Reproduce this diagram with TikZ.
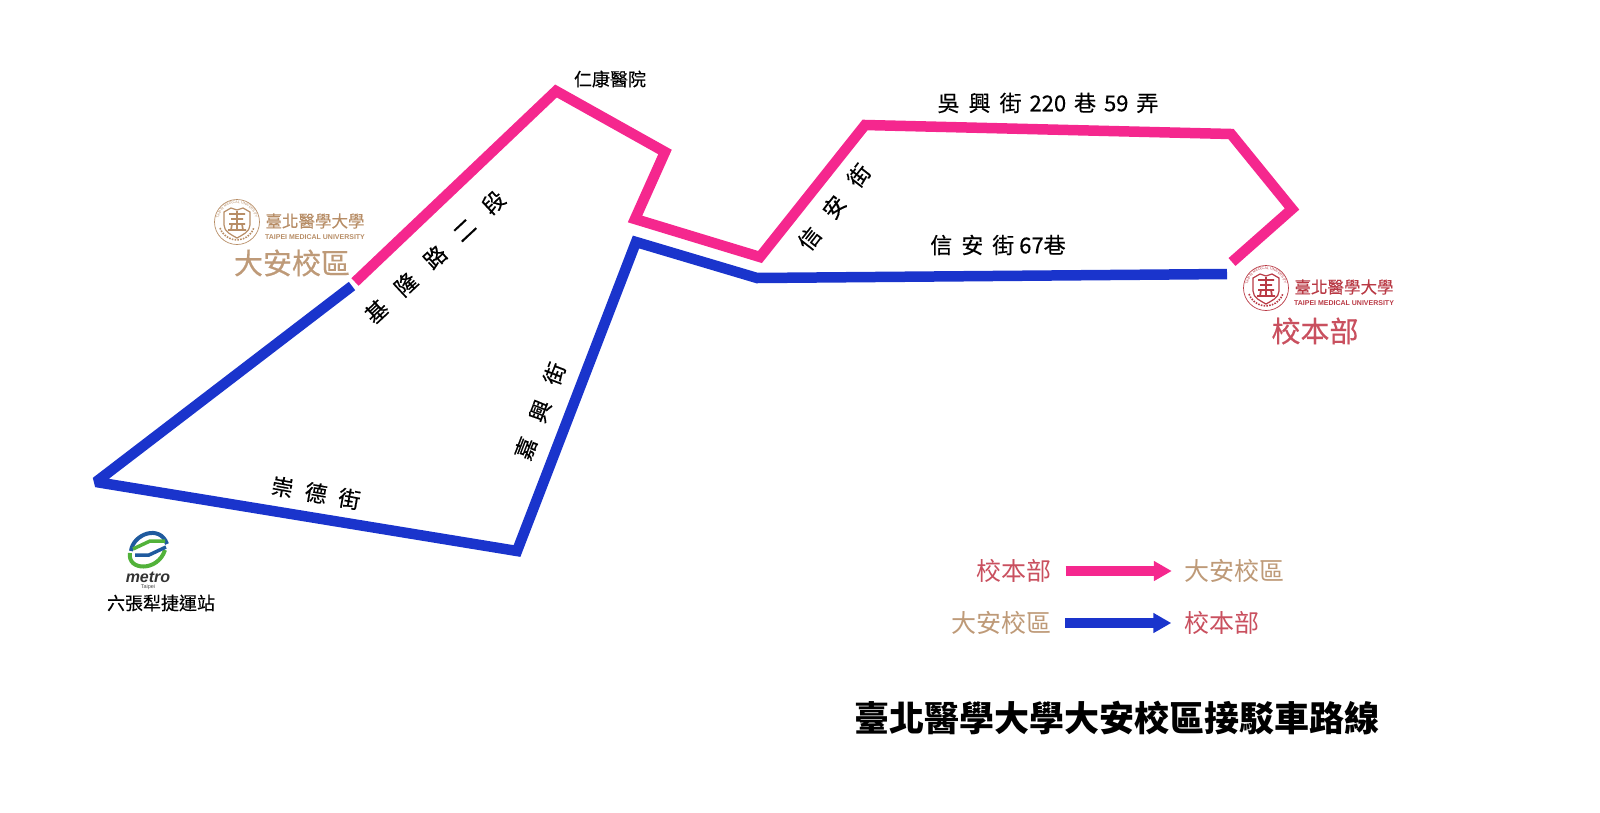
\documentclass[tikz,border=0pt]{standalone}
\usepackage{fontspec}
\usepackage{tikz}
\usepackage{xcolor}
\usetikzlibrary{arrows.meta,decorations.text}
\setmainfont{Noto Sans CJK TC}
\newfontfamily\medfont[FakeBold=0.35]{Noto Sans CJK TC}
\newfontfamily\logofont{Liberation Sans}
\definecolor{routepink}{HTML}{F5278E}
\definecolor{routeblue}{HTML}{1A34CC}
\definecolor{daantan}{HTML}{BE9A78}
\definecolor{mainred}{HTML}{C9505F}
\definecolor{logotan}{HTML}{B78D66}
\definecolor{logored}{HTML}{B93A45}
\definecolor{metroblue}{HTML}{1F5A9E}
\definecolor{metrogreen}{HTML}{52B23A}
\newcommand{\gap}{\hspace{9pt}}
\newcommand{\tmulogo}[4]{%
	\begin{scope}[shift={(#1,#2)},y=1pt,#3]
		\node[inner sep=0pt, circle, minimum size=45pt, draw=#3, line width=0.7pt] (#4ring) at (0,0) {};
		\draw[#3, line width=1.2pt, fill=white] (-13,10) -- (-6,14) -- (0,12) -- (6,14) -- (13,10) -- (13,-3) .. controls (13,-10) and (5,-13) .. (0,-16) .. controls (-5,-13) and (-13,-10) .. (-13,-3) -- cycle;
		\draw[#3, line width=1.7pt] (-8,8) -- (8,8) (0,11) -- (0,-8) (-6,3) -- (6,3) (-8,-2) -- (8,-2) (-5,-2) -- (-6,-8) (5,-2) -- (6,-8) (-9,-8) -- (9,-8);
		\path[decorate, decoration={text along path, text align=center, text={|\logofont\fontsize{3.6}{4}\selectfont\color{#3}|TAIPEI MEDICAL UNIVERSITY}}] (-18.5,2) arc[start angle=174, end angle=6, radius=18.6];
		\draw[#3, line width=1.6pt, dash pattern=on 1.6pt off 1.2pt] (-17,-6) arc[start angle=200, end angle=340, radius=18];
		\node[#3, font=\medfont\fontsize{16.5}{18}\selectfont, inner sep=0pt] (#4name) at (78,1) {臺北醫學大學};
		\node[#3, font=\logofont\bfseries\fontsize{7}{8}\selectfont, inner sep=0pt] (#4eng) at (78,-15) {TAIPEI MEDICAL UNIVERSITY};
	\end{scope}}
\tikzset{
	pinkroute/.style={draw=routepink, line width=10.5pt},
	blueroute/.style={draw=routeblue, line width=10.5pt, miter limit=2.4},
	roadlabel/.style={inner sep=0pt, font=\medfont\fontsize{22}{26}\selectfont},
	placelabel/.style={inner sep=0pt, font=\medfont\fontsize{18}{20}\selectfont},
	legendlabel/.style={inner sep=0pt, font=\fontsize{25}{28}\selectfont},
	legendarrow/.style={line width=10pt, -{Triangle[length=18pt, width=19pt]}},
}
\begin{document}
\begin{tikzpicture}[x=1pt, y=-1pt]
	\useasboundingbox (0,0) rectangle (1600,812);
	\coordinate (p0) at (1232,262);
	\coordinate (p1) at (1292,209);
	\coordinate (p2) at (1231,134);
	\coordinate (p3) at (865,125);
	\coordinate (p4) at (760,257);
	\coordinate (p5) at (635,219);
	\coordinate (p6) at (665,152);
	\coordinate (p7) at (556,91);
	\coordinate (p8) at (355,282);
	\draw[pinkroute] (p0) -- (p1) -- (p2) -- (p3) -- (p4) -- (p5) -- (p6) -- (p7) -- (p8);
	\coordinate (b0) at (352,286);
	\coordinate (b1) at (96,482);
	\coordinate (b2) at (517,551);
	\coordinate (b3) at (636,242);
	\coordinate (b4) at (757,278);
	\coordinate (b5) at (1227,274);
	\draw[blueroute] (b0) -- (b1) -- (b2) -- (b3) -- (b4) -- (b5);
	\node[placelabel] (renkang) at (610,79) {仁康醫院};
	\node[roadlabel] (wuxing) at (1048,103) {吳\gap 興\gap 街\hspace{3pt} 220\hspace{3pt} 巷\hspace{3pt} 59\hspace{3pt} 弄};
	\node[roadlabel] (xinan67) at (998,245) {信\gap 安\gap 街 67巷};
	\node[roadlabel, rotate=52] (xinan) at (834,207) {信\gap\gap 安\gap\gap 街};
	\node[roadlabel, rotate=43] (keelung) at (435,257) {基\gap\gap 隆\gap\gap 路\gap\gap 二\gap\gap 段};
	\node[roadlabel, rotate=69] (jiaxing) at (540,411) {嘉\gap\gap 興\gap\gap 街};
	\node[roadlabel, rotate=-10] (chongde) at (316,493) {崇\hspace{12pt}德\hspace{12pt}街};
	\tmulogo{237}{222}{logotan}{da}
	\node[daantan, inner sep=0pt, font=\medfont\fontsize{29}{32}\selectfont] (daan) at (292,263) {大安校區};
	\tmulogo{1266}{288}{logored}{ben}
	\node[mainred, inner sep=0pt, font=\medfont\fontsize{29}{32}\selectfont] (main) at (1315,331) {校本部};
	\draw[metroblue, line width=4pt] (131,551) .. controls (133,534) and (160,524) .. (167,544);
	\draw[metrogreen, line width=4pt] (130,553) .. controls (127,571) and (158,572) .. (165,550);
	\draw[metrogreen, line width=3.5pt] (133,549) -- (150,541) -- (165,541);
	\draw[metroblue, line width=3.5pt] (135,555) -- (149,555) -- (166,547);
	\node[inner sep=0pt, font=\logofont\bfseries\itshape\fontsize{16}{18}\selectfont, text=black!80] (metro) at (148,577) {metro};
	\node[inner sep=0pt, font=\logofont\fontsize{5.5}{6}\selectfont, text=black!70] (taipei) at (148,587) {Taipei};
	\node[placelabel] (liuzhangli) at (161,603) {六張犁捷運站};
	\node[legendlabel, mainred] (lega) at (1014,571) {校本部};
	\node[legendlabel, daantan] (legb) at (1234,571) {大安校區};
	\draw[legendarrow, routepink, shorten <=14pt, shorten >=12pt] (lega) -- (legb);
	\node[legendlabel, daantan] (legc) at (1001,623) {大安校區};
	\node[legendlabel, mainred] (legd) at (1222,623) {校本部};
	\draw[legendarrow, routeblue, shorten <=14pt, shorten >=13pt] (legc) -- (legd);
	\node[inner sep=0pt, font=\bfseries\fontsize{35}{40}\selectfont] (title) at (1117,718) {臺北醫學大學大安校區接駁車路線};
\end{tikzpicture}
\end{document}
